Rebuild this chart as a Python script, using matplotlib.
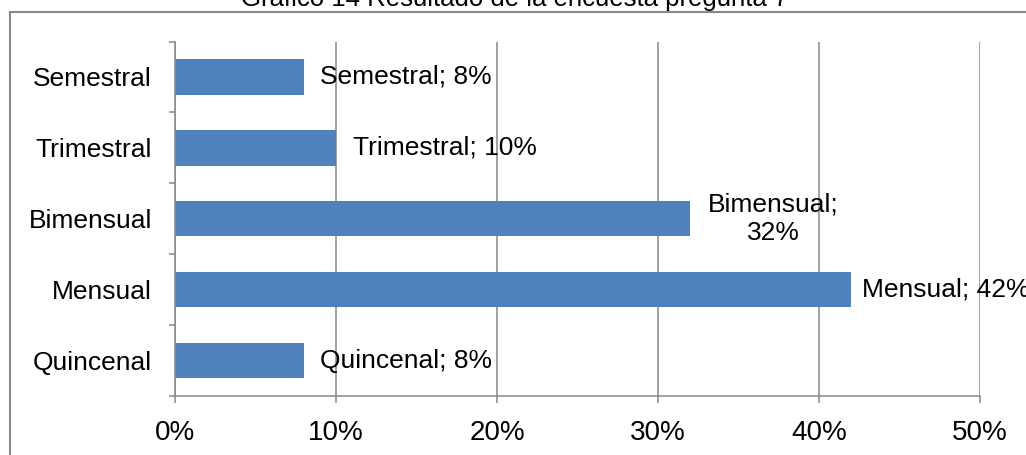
import matplotlib
matplotlib.use("Agg")
import matplotlib.pyplot as plt
from matplotlib.lines import Line2D
from matplotlib.ticker import FuncFormatter

plt.rcParams['font.family'] = ['Liberation Sans', 'DejaVu Sans']

categories = ["Quincenal", "Mensual", "Bimensual", "Trimestral", "Semestral"]
values = [8, 42, 32, 10, 8]
data_labels = ["Quincenal; 8%", "Mensual; 42%", "Bimensual;\n32%", "Trimestral; 10%", "Semestral; 8%"]
xticks = [0, 10, 20, 30, 40, 50]
title = "Gráfico 14 Resultado de la encuesta pregunta 7"

W, H = 1026, 455
fig = plt.figure(figsize=(W / 100, H / 100), dpi=100)
ax = fig.add_axes([175 / W, 1 - 396 / H, (980 - 175) / W, (396 - 41.5) / H])

gray = "#878787"
bar_color = "#4F81BD"

ypos = list(range(len(categories)))
ax.barh(ypos, values, height=0.5, color=bar_color, zorder=3)

ax.set_xlim(0, 50)
ax.set_ylim(-0.5, len(categories) - 0.5)
ax.set_xticks(xticks)
ax.xaxis.set_major_formatter(FuncFormatter(lambda v, p: f"{int(v)}%"))
ax.set_yticks(ypos)
ax.set_yticklabels(categories)
ax.set_yticks([i - 0.5 for i in range(len(categories) + 1)], minor=True)

ax.grid(axis="x", color=gray, linewidth=1.1, zorder=1)
for s in ["top", "right"]:
    ax.spines[s].set_visible(False)
for s in ["left", "bottom"]:
    ax.spines[s].set_color(gray)
    ax.spines[s].set_linewidth(1.1)
    ax.spines[s].set_zorder(4)

ax.tick_params(axis="x", which="major", direction="out", length=5, width=1.1,
               color=gray, labelsize=20, pad=12)
ax.tick_params(axis="y", which="major", length=0, labelsize=19, pad=16.5)
ax.tick_params(axis="y", which="minor", direction="out", length=4.5, width=1.1, color=gray)

offsets = [12, 8, 13, 12, 12]
for y, v, lab, off in zip(ypos, values, data_labels, offsets):
    ax.annotate(lab, xy=(v, y), xytext=(off, 0), textcoords="offset points",
                ha="left", va="center", multialignment="center", fontsize=19,
                zorder=5, annotation_clip=False)

fig.text(515 / W, 1 - 6 / H, title, ha="center", va="baseline", fontsize=18.5)

# outer chart border (partially off canvas)
fig.add_artist(Line2D([9.5 / W, 9.5 / W], [1 - 11.5 / H, -0.1], transform=fig.transFigure,
                      color=gray, linewidth=1.5))
fig.add_artist(Line2D([9.5 / W, 1.1], [1 - 11.5 / H, 1 - 11.5 / H], transform=fig.transFigure,
                      color=gray, linewidth=1.5))

fig.savefig("out.png", dpi=100)
